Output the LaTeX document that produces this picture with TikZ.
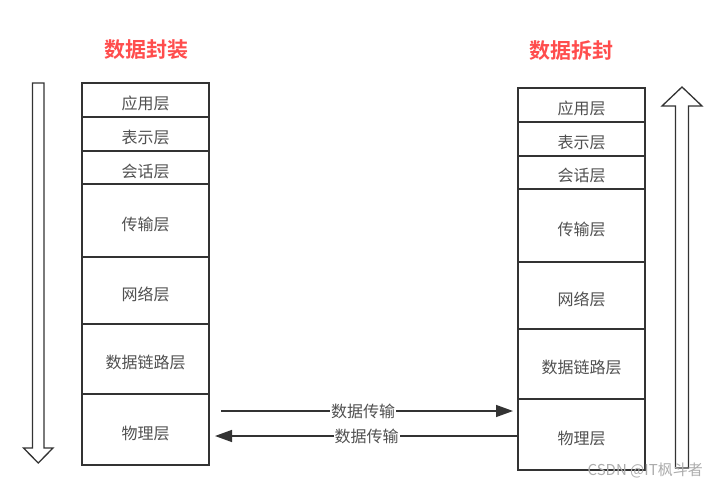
\documentclass[tikz,border=0pt]{standalone}
\usepackage{fontspec}
\setmainfont{Noto Sans CJK SC}
\newfontfamily\cjkbold{Noto Sans CJK SC Bold}
\usetikzlibrary{arrows.meta}
\definecolor{titlered}{HTML}{FF4D4D}
\definecolor{linegray}{HTML}{333333}
\definecolor{txtgray}{HTML}{505050}
\tikzset{
  layer/.style={draw=linegray, line width=1.8pt, minimum width=127pt, inner sep=0pt, outer sep=0pt, text=txtgray, font=\fontsize{16}{18}\selectfont, text height=19pt, text depth=0pt},
  ttl/.style={text=titlered, font=\cjkbold\fontsize{21}{23}\selectfont, inner sep=0pt},
  hollow/.style={draw=linegray, line width=1.3pt, fill=white, line join=miter},
  flow/.style={draw=linegray, line width=1.4pt, -{Triangle[length=17pt,width=12pt]}},
  flowlbl/.style={fill=white, inner sep=1pt, text=txtgray, font=\fontsize{16}{18}\selectfont},
}
\begin{document}
\begin{tikzpicture}[x=1pt,y=-1pt]
\useasboundingbox (0,0) rectangle (713,487);
% titles
\node[ttl] (t1) at (146,50) {数据封装};
\node[ttl] (t2) at (571,51) {数据拆封};
% left stack: boundaries 83,117,151,184,257,324,394,465
\node[layer, minimum height=34pt] (la) at (145.5,100) {应用层};
\node[layer, minimum height=34pt] (lp) at (145.5,134) {表示层};
\node[layer, minimum height=33pt] (ls) at (145.5,167.5) {会话层};
\node[layer, minimum height=73pt] (lt) at (145.5,220.5) {传输层};
\node[layer, minimum height=67pt] (ln) at (145.5,290.5) {网络层};
\node[layer, minimum height=70pt] (ld) at (145.5,359) {数据链路层};
\node[layer, minimum height=71pt] (lh) at (145.5,429.5) {物理层};
% right stack: +5
\node[layer, minimum height=34pt] (ra) at (581.5,105) {应用层};
\node[layer, minimum height=34pt] (rp) at (581.5,139) {表示层};
\node[layer, minimum height=33pt] (rs) at (581.5,172.5) {会话层};
\node[layer, minimum height=73pt] (rt) at (581.5,225.5) {传输层};
\node[layer, minimum height=67pt] (rn) at (581.5,295.5) {网络层};
\node[layer, minimum height=70pt] (rd) at (581.5,364) {数据链路层};
\node[layer, minimum height=71pt] (rh) at (581.5,434.5) {物理层};
% hollow arrows
\draw[hollow] (32.5,83) -- (44,83) -- (44,448) -- (53,448) -- (38.25,463) -- (23.5,448) -- (32.5,448) -- cycle;
\draw[hollow] (675.5,468) -- (688.5,468) -- (688.5,106) -- (702,106) -- (682,87) -- (662,106) -- (675.5,106) -- cycle;
% data transfer arrows
\coordinate (a1s) at (221,411);
\coordinate (a1e) at (513,411);
\coordinate (a2e) at (215,436);
\draw[flow] (a1s) -- node[flowlbl, pos=0.487] (lbl1) {数据传输} (a1e);
\draw[flow] (rh.west |- a2e) -- node[flowlbl, pos=0.5] (lbl2) {数据传输} (a2e);
% watermark
\node[text=gray!65, font=\fontsize{15}{17}\selectfont, inner sep=0pt, anchor=east] (wm) at (703,470) {CSDN @IT枫斗者};
\end{tikzpicture}
\end{document}
